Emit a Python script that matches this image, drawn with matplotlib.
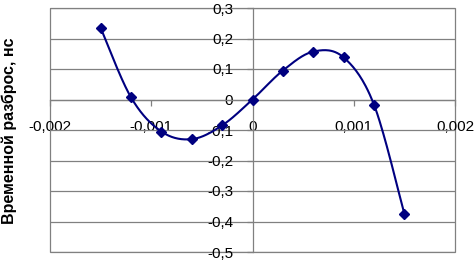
import numpy as np
import matplotlib.pyplot as plt
from matplotlib.patches import Rectangle
from matplotlib.ticker import FuncFormatter

plt.rcParams['font.family'] = ['Liberation Sans', 'DejaVu Sans']

x_vals = [-0.0015, -0.0012, -0.0009, -0.0006, -0.0003, 0.0, 0.0003, 0.0006, 0.0009, 0.0012, 0.0015]
y_vals = [0.235, 0.007, -0.105, -0.13, -0.085, 0.0, 0.095, 0.157, 0.138, -0.017, -0.375]
x_ticks = [-0.002, -0.001, 0.0, 0.001, 0.002]
y_ticks = [-0.5, -0.4, -0.3, -0.2, -0.1, 0.0, 0.1, 0.2, 0.3]


def smooth(xs, ys, n=30):
    # excel-like smoothing: catmull-rom through the points
    p = np.column_stack([xs, ys])
    p = np.vstack([p[0], p, p[-1]])
    out = []
    for i in range(1, len(p) - 2):
        p0, p1, p2, p3 = p[i - 1], p[i], p[i + 1], p[i + 2]
        c1 = p1 + (p2 - p0) / 6
        c2 = p2 - (p3 - p1) / 6
        t = np.linspace(0, 1, n)[:, None]
        seg = (1 - t)**3 * p1 + 3 * (1 - t)**2 * t * c1 + 3 * (1 - t) * t**2 * c2 + t**3 * p2
        out.append(seg)
    out = np.vstack(out)
    return out[:, 0], out[:, 1]


def comma(v, pos):
    s = ('%g' % round(v, 4)).replace('.', ',')
    return '0' if s in ('0', '-0') else s


fig = plt.figure(figsize=(4.74, 2.60), dpi=100)
ax = fig.add_axes([50 / 474, 8 / 260, 405 / 474, 244 / 260])

ax.set_xlim(-0.002, 0.002)
ax.set_ylim(-0.5, 0.3)
ax.set_xticks(x_ticks)
ax.set_yticks(y_ticks)
ax.xaxis.set_major_formatter(FuncFormatter(comma))
ax.yaxis.set_major_formatter(FuncFormatter(comma))

ax.grid(axis='y', color='#808080', lw=0.9)
ax.set_axisbelow(True)

for s in ['top', 'right']:
    ax.spines[s].set_visible(False)
ax.spines['left'].set_position(('data', 0))
ax.spines['bottom'].set_position(('data', 0))
for s in ['left', 'bottom']:
    ax.spines[s].set_color('#808080')
    ax.spines[s].set_linewidth(0.9)
ax.add_patch(Rectangle((0, 0), 1, 1, transform=ax.transAxes, fill=False,
                       ec='#808080', lw=0.9, clip_on=False, zorder=0))

ax.tick_params(axis='both', color='#808080', length=4, width=0.9,
               labelsize=11, direction='out')
ax.tick_params(axis='y', pad=10)
ax.tick_params(axis='x', pad=11)

sx, sy = smooth(x_vals, y_vals)
ax.plot(sx, sy, color='#000080', lw=1.5, zorder=3)
ax.plot(x_vals, y_vals, 'D', color='#000080', ms=5.5, zorder=4)

fig.text(9 / 474, 129 / 260, 'Временной разброс, нс', rotation=90,
         fontsize=11.5, fontweight='bold', ha='center', va='center')

fig.savefig('out.png', dpi=100)
